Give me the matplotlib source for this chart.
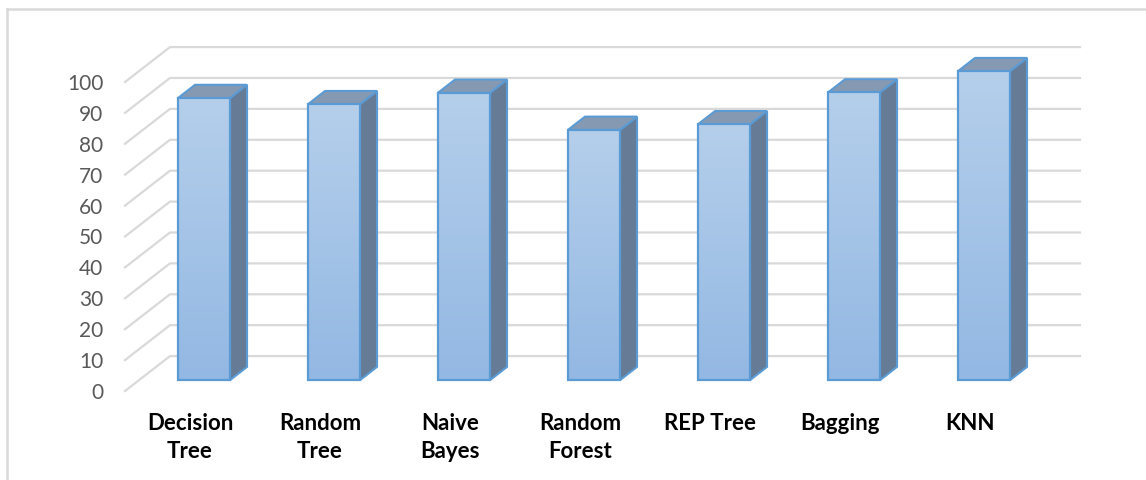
import numpy as np
import matplotlib
matplotlib.use('Agg')
import matplotlib.pyplot as plt
from matplotlib.patches import Polygon
from matplotlib.lines import Line2D

# data
categories = ['Decision\nTree', 'Random\nTree', 'Naive\nBayes', 'Random\nForest',
              'REP Tree', 'Bagging', 'KNN']
values = [91.3, 89.3, 93.0, 81.0, 82.8, 93.1, 100.0]
yticks = list(range(0, 101, 10))

# pseudo 3d settings (in data units)
DX = 0.346     # depth shift along x (category units)
DY = 11.3      # depth shift along y (value units)
F0, F1 = 0.31, 0.69   # bar front/back depth fraction
BW = 0.4

EDGE = '#5b9bd5'
GRID = '#d9d9d9'

plt.rcParams['font.family'] = ['Lato', 'DejaVu Sans']

fig = plt.figure(figsize=(11.46, 4.8), dpi=100)
W, H = 1146, 480
ax = fig.add_axes([125 / W, (H - 391) / H, 910 / W, 309 / H])
ax.set_xlim(-0.5, 6.5)
ax.set_ylim(0, 100)
for s in ax.spines.values():
    s.set_visible(False)

# gridlines: short diagonal on the side wall then along the back wall
for v in yticks:
    ax.plot([-0.5, -0.5 + DX, 6.5 + DX], [v, v + DY, v + DY],
            color=GRID, lw=1.6, clip_on=False, zorder=1)

# gradient for the front faces
grad = np.linspace(0, 1, 256).reshape(-1, 1)
cmap = matplotlib.colors.LinearSegmentedColormap.from_list('front', ['#93b8e3', '#b5cfeb'])

for i, v in enumerate(values):
    x0 = i - BW / 2 + F0 * DX
    x1 = i + BW / 2 + F0 * DX
    y0 = F0 * DY
    y1 = v + F0 * DY
    ddx = (F1 - F0) * DX
    ddy = (F1 - F0) * DY
    # side face
    side = Polygon([(x1, y0), (x1 + ddx, y0 + ddy), (x1 + ddx, y1 + ddy), (x1, y1)],
                   closed=True, facecolor='#667b96', edgecolor=EDGE, lw=1.5,
                   clip_on=False, zorder=3)
    ax.add_patch(side)
    # top face
    top = Polygon([(x0, y1), (x1, y1), (x1 + ddx, y1 + ddy), (x0 + ddx, y1 + ddy)],
                  closed=True, facecolor='#8699b2', edgecolor=EDGE, lw=1.5,
                  clip_on=False, zorder=3)
    ax.add_patch(top)
    # front face with vertical gradient
    ax.imshow(grad, extent=(x0, x1, y0, y1), origin='lower', cmap=cmap,
              aspect='auto', zorder=4, clip_on=False)
    front = Polygon([(x0, y0), (x1, y0), (x1, y1), (x0, y1)], closed=True,
                    facecolor='none', edgecolor=EDGE, lw=1.6, clip_on=False, zorder=5)
    ax.add_patch(front)

ax.set_xlim(-0.5, 6.5)
ax.set_ylim(0, 100)

ax.set_yticks(yticks)
ax.set_yticklabels([str(t) for t in yticks], fontsize=15, color='#595959')
ax.set_xticks(range(len(categories)))
ax.set_xticklabels(categories, fontsize=16, fontweight='bold', color='black',
                   linespacing=1.4)
ax.tick_params(axis='y', length=0, pad=15.5)
ax.tick_params(axis='x', length=0, pad=16)

# outer chart border (only top and left visible in the crop)
fig.add_artist(Line2D([7 / W, 7 / W], [0, 1 - 9 / H], color=GRID, lw=1.8))
fig.add_artist(Line2D([7 / W, 1], [1 - 9 / H, 1 - 9 / H], color=GRID, lw=1.8))

fig.savefig('out.png', dpi=100)
